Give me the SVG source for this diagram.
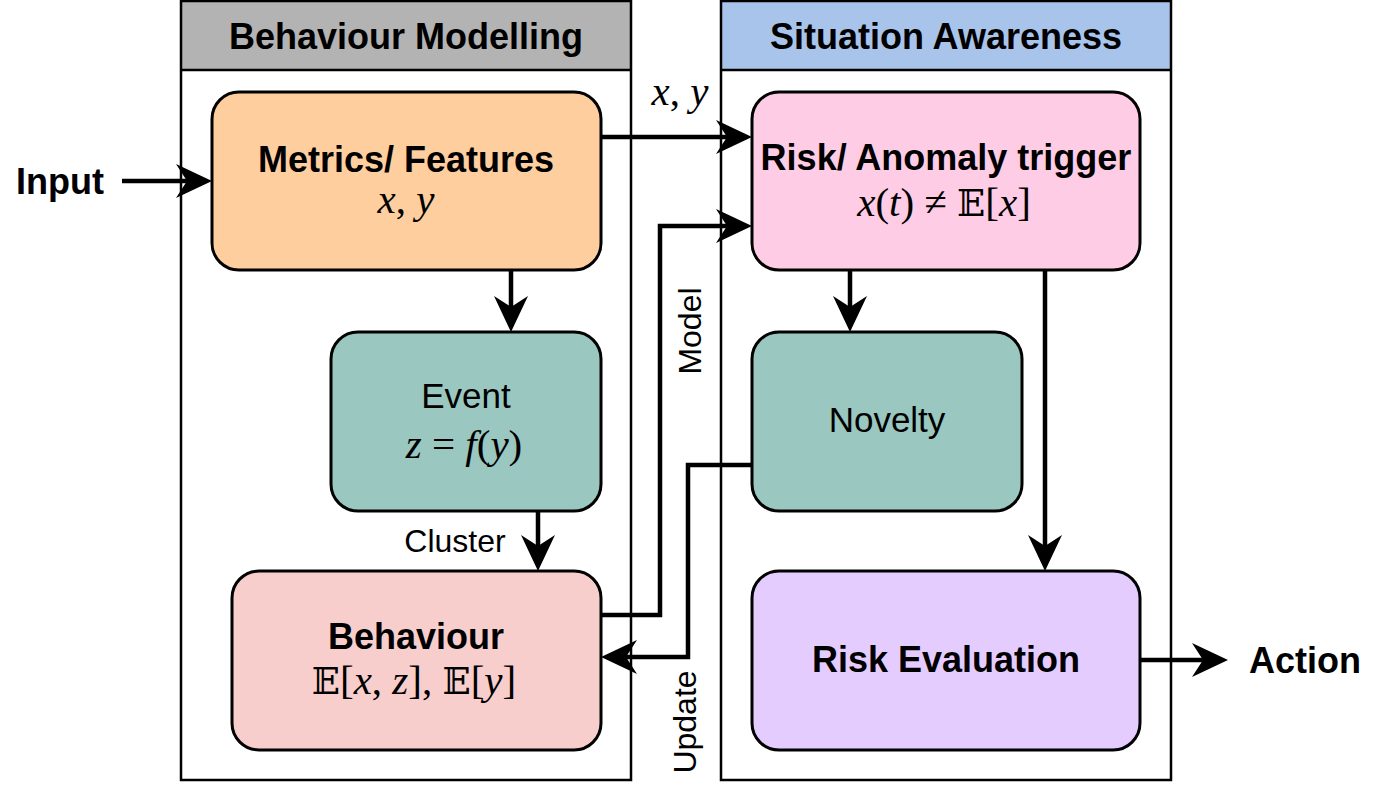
<svg xmlns="http://www.w3.org/2000/svg" width="1383" height="786" viewBox="0 0 1383 786">
<defs>
<style>
.cont{fill:none;stroke:#000;stroke-width:2.5}
.box{stroke:#000;stroke-width:3}
.b{font-family:"Liberation Sans",Arial,sans-serif;font-weight:bold;font-size:36px;text-anchor:middle;fill:#000}
.r{font-family:"Liberation Sans",Arial,sans-serif;font-size:35px;text-anchor:middle;fill:#000}
.lbl{font-family:"Liberation Sans",Arial,sans-serif;font-size:32px;text-anchor:middle;fill:#000}
.m{font-family:"Liberation Serif","DejaVu Serif",serif;font-size:41px;text-anchor:middle;fill:#000}
.i{font-style:italic}
.bb{font-family:"DejaVu Serif","DejaVu Sans",serif;font-style:normal;font-size:37px}
.con{fill:none;stroke:#000;stroke-width:4.5}
</style>
<marker id="ah" viewBox="-17 -18 40 36" markerWidth="40" markerHeight="36" refX="0" refY="0" orient="auto" markerUnits="userSpaceOnUse">
<path d="M20,0 L-16,-17 L-5,0 L-16,17 Z" fill="#000"/>
</marker>
</defs>
<rect width="1383" height="786" fill="#fff"/>

<g id="container-behaviour">
<rect x="181" y="1" width="450" height="69" fill="#B3B3B3"/>
<rect x="181" y="1" width="450" height="779" class="cont"/>
<line x1="181" y1="70" x2="631" y2="70" stroke="#000" stroke-width="2.5"/>
<text x="406" y="49" class="b">Behaviour Modelling</text>
</g>
<g id="container-situation">
<rect x="721" y="1" width="450" height="69" fill="#A9C4EB"/>
<rect x="721" y="1" width="450" height="779" class="cont"/>
<line x1="721" y1="70" x2="1171" y2="70" stroke="#000" stroke-width="2.5"/>
<text x="946" y="49" class="b">Situation Awareness</text>
</g>

<g id="connectors">
<path class="con" d="M122,181 H192" marker-end="url(#ah)"/>
<path class="con" d="M601,137 H732" marker-end="url(#ah)"/>
<path class="con" d="M511,270 V312" marker-end="url(#ah)"/>
<path class="con" d="M538,511 V551" marker-end="url(#ah)"/>
<path class="con" d="M601,615 H660 V226 H732" marker-end="url(#ah)"/>
<path class="con" d="M752,465 H688 V657 H621" marker-end="url(#ah)"/>
<path class="con" d="M850,270 V312" marker-end="url(#ah)"/>
<path class="con" d="M1045,270 V551" marker-end="url(#ah)"/>
<path class="con" d="M1140,660 H1208" marker-end="url(#ah)"/>
<text x="680" y="105" class="m"><tspan class="i">x</tspan>, <tspan class="i">y</tspan></text>
<text x="455" y="552" class="lbl">Cluster</text>
<text x="0" y="0" class="lbl" transform="translate(701,331) rotate(-90)">Model</text>
<text x="0" y="0" class="lbl" transform="translate(696,722) rotate(-90)">Update</text>
</g>

<g id="input"><text x="60" y="194" class="b">Input</text></g>
<g id="action"><text x="1305" y="673" class="b">Action</text></g>

<g id="metrics">
<rect x="212" y="92" width="389" height="178" rx="27" fill="#FFCE9F" class="box"/>
<text x="406" y="172" class="b">Metrics/ Features</text>
<text x="406" y="213" class="m"><tspan class="i">x</tspan>, <tspan class="i">y</tspan></text>
</g>
<g id="event">
<rect x="331" y="332" width="270" height="179" rx="27" fill="#9AC7BF" class="box"/>
<text x="466" y="408" class="r">Event</text>
<text x="464" y="458" class="m"><tspan class="i">z</tspan> = <tspan class="i">f</tspan>(<tspan class="i">y</tspan>)</text>
</g>
<g id="behaviour">
<rect x="232" y="571" width="369" height="179" rx="27" fill="#F8CECC" class="box"/>
<text x="416" y="649" class="b">Behaviour</text>
<text x="414" y="694" class="m"><tspan class="bb">𝔼</tspan>[<tspan class="i">x</tspan>, <tspan class="i">z</tspan>], <tspan class="bb">𝔼</tspan>[<tspan class="i">y</tspan>]</text>
</g>
<g id="risk-trigger">
<rect x="752" y="92" width="388" height="178" rx="27" fill="#FFCCE6" class="box"/>
<text x="946" y="170" class="b">Risk/ Anomaly trigger</text>
<text x="944" y="216" class="m"><tspan class="i">x</tspan>(<tspan class="i">t</tspan>) ≠ <tspan class="bb">𝔼</tspan>[<tspan class="i">x</tspan>]</text>
</g>
<g id="novelty">
<rect x="752" y="332" width="270" height="179" rx="27" fill="#9AC7BF" class="box"/>
<text x="887" y="432" class="r">Novelty</text>
</g>
<g id="risk-evaluation">
<rect x="752" y="571" width="388" height="179" rx="27" fill="#E5CCFF" class="box"/>
<text x="946" y="672" class="b">Risk Evaluation</text>
</g>
</svg>
